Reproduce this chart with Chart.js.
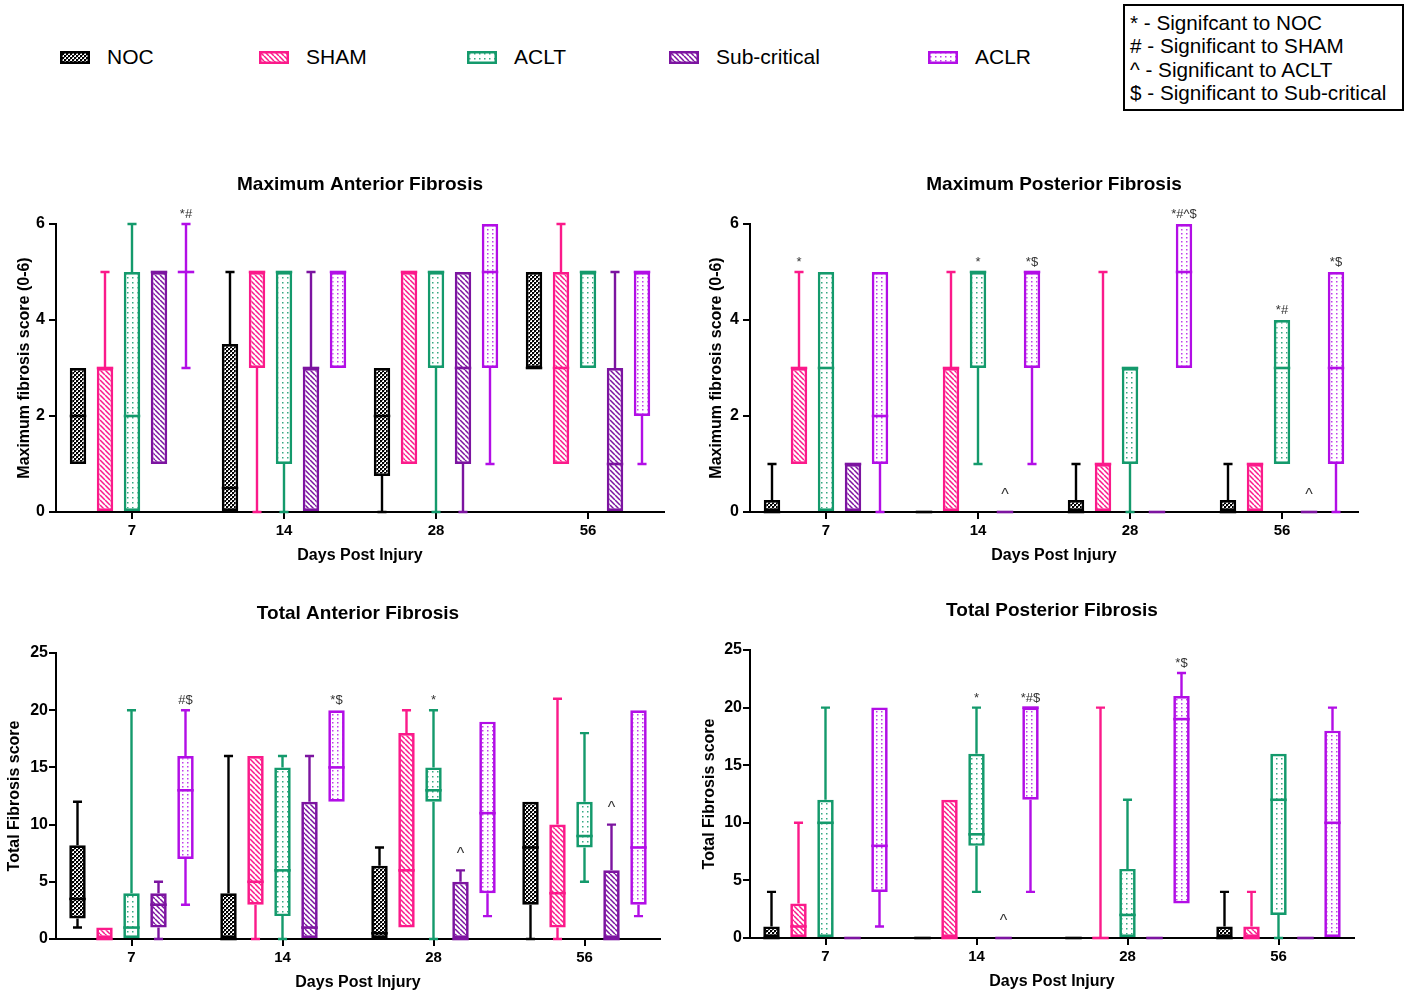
<!DOCTYPE html>
<html><head><meta charset="utf-8">
<script src="https://cdn.jsdelivr.net/npm/chart.js@4.4.0/dist/chart.umd.min.js"></script>
<style>
body{margin:0;background:#fff;width:1405px;height:996px;position:relative;overflow:hidden;font-family:'Liberation Sans',Arial,sans-serif;}
canvas{position:absolute;}
.leg{position:absolute;font-size:21px;line-height:24px;color:#000;white-space:nowrap;}
#sig{position:absolute;left:1123px;top:4px;width:281px;height:107px;border:2.5px solid #000;box-sizing:border-box;font-size:20.7px;line-height:23.3px;padding:5px 0 0 5px;color:#000;white-space:nowrap;}
</style></head><body>
<div id="sig">* - Signifcant to NOC<br># - Significant to SHAM<br>^ - Significant to ACLT<br>$ - Significant to Sub-critical</div>
<script>
const FONT = "'Liberation Sans', Arial, sans-serif";
const days = ['7', '14', '28', '56'];
const groups = ['NOC', 'SHAM', 'ACLT', 'Sub-critical', 'ACLR'];

// Each entry: [min, q1, median, q3, max] for days 7, 14, 28, 56
// Maximum Anterior Fibrosis
const maxAntNOC  = [[1,1,2,3,3],[0,0,0.5,3.5,5],[0,0.75,2,3,3],[3,3,3,5,5]];
const maxAntSHAM = [[0,0,3,3,5],[0,3,5,5,5],[1,1,5,5,5],[1,1,3,5,6]];
const maxAntACLT = [[0,0,2,5,6],[0,1,5,5,5],[0,3,5,5,5],[3,3,5,5,5]];
const maxAntSUB  = [[1,1,5,5,5],[0,0,3,3,5],[0,1,3,5,5],[0,0,1,3,5]];
const maxAntACLR = [[3,5,5,5,6],[3,3,5,5,5],[1,3,5,6,6],[1,2,5,5,5]];
const maxAntNotes = [['','','',''],['','','',''],['','','',''],['','','',''],['*#','','','']];

// Maximum Posterior Fibrosis
const maxPostNOC  = [[0,0,0,0.25,1],[0,0,0,0,0],[0,0,0,0.25,1],[0,0,0,0.25,1]];
const maxPostSHAM = [[1,1,3,3,5],[0,0,3,3,5],[0,0,1,1,5],[0,0,1,1,1]];
const maxPostACLT = [[0,0,3,5,5],[1,3,5,5,5],[0,1,3,3,3],[1,1,3,4,4]];
const maxPostSUB  = [[0,0,1,1,1],[0,0,0,0,0],[0,0,0,0,0],[0,0,0,0,0]];
const maxPostACLR = [[0,1,2,5,5],[1,3,5,5,5],[3,3,5,6,6],[0,1,3,5,5]];
const maxPostNotes = [['','','',''],['*','','',''],['','*','','*#'],['','^','','^'],['','*$','*#^$','*$']];

// Total Anterior Fibrosis
const totAntNOC  = [[1,1.8,3.5,8.2,12],[0,0,0,4,16],[0,0,0.5,6.4,8],[0,3,8,12,12]];
const totAntSHAM = [[0,0,0,1,1],[0,3,5,16,16],[1,1,6,18,20],[0,1,4,10,21]];
const totAntACLT = [[0,0,1,4,20],[0,2,6,15,16],[0,12,13,15,20],[5,8,9,12,18]];
const totAntSUB  = [[0,1,3,4,5],[0,0,1,12,16],[0,0,0,5,6],[0,0,0,6,10]];
const totAntACLR = [[3,7,13,16,20],[12,12,15,20,20],[2,4,11,19,19],[2,3,8,20,20]];
const totAntNotes = [['','','',''],['','','',''],['','','*',''],['','','^','^'],['#$','*$','','']];

// Total Posterior Fibrosis
const totPostNOC  = [[0,0,0,1,4],[0,0,0,0,0],[0,0,0,0,0],[0,0,0,1,4]];
const totPostSHAM = [[0,0,1,3,10],[0,0,0,12,12],[0,0,0,0,20],[0,0,0,1,4]];
const totPostACLT = [[0,0,10,12,20],[4,8,9,16,20],[0,0,2,6,12],[0,2,12,16,16]];
const totPostSUB  = [[0,0,0,0,0],[0,0,0,0,0],[0,0,0,0,0],[0,0,0,0,0]];
const totPostACLR = [[1,4,8,20,20],[4,12,20,20,20],[3,3,19,21,23],[0,0,10,18,20]];
const totPostNotes = [['','','',''],['','','',''],['','*','',''],['','^','',''],['','*#$','*$','']];

const yTicksMax = [0, 2, 4, 6];
const yTicksTot = [0, 5, 10, 15, 20, 25];

const colors = ['#000000', '#fb1a8a', '#149a6c', '#7c14a0', '#b20ee6'];
const kinds = ['checker', 'stripe', 'dots', 'stripe', 'dots2'];

function makePattern(kind, color) {
  const t = document.createElement('canvas');
  const c = t.getContext('2d');
  if (kind === 'checker') {
    t.width = 4; t.height = 4;
    c.fillStyle = '#fff'; c.fillRect(0,0,4,4);
    c.fillStyle = color; c.fillRect(0,0,2,2); c.fillRect(2,2,2,2);
    c.globalAlpha = 0.5; c.fillRect(2,0,1,1); c.fillRect(0,2,1,1);
  } else if (kind === 'stripe') {
    t.width = 5; t.height = 5;
    c.fillStyle = '#fff'; c.fillRect(0,0,5,5);
    c.strokeStyle = color; c.lineWidth = 1.5;
    c.beginPath();
    for (const k of [-5, 0, 5]) { c.moveTo(k, 0); c.lineTo(k + 5, 5); }
    c.stroke();
  } else if (kind === 'dots') {
    t.width = 5; t.height = 5;
    c.fillStyle = '#fff'; c.fillRect(0,0,5,5);
    c.fillStyle = color; c.globalAlpha = 0.85; c.fillRect(2, 2, 1.5, 1.5);
  } else {
    t.width = 5; t.height = 4;
    c.fillStyle = '#fff'; c.fillRect(0,0,5,4);
    c.fillStyle = color; c.globalAlpha = 0.8; c.fillRect(2, 1, 1.5, 1.5);
  }
  return c.createPattern(t, 'repeat');
}
const patterns = colors.map((col, i) => makePattern(kinds[i], col));

// legend
const legendX = [60, 259, 467, 669, 928];
groups.forEach((g, i) => {
  const sw = document.createElement('canvas');
  sw.width = 30; sw.height = 13;
  sw.style.left = legendX[i] + 'px'; sw.style.top = '51px';
  document.body.appendChild(sw);
  const c = sw.getContext('2d');
  c.fillStyle = patterns[i]; c.fillRect(0,0,30,13);
  c.strokeStyle = colors[i]; c.lineWidth = 2.5; c.strokeRect(1.25,1.25,27.5,10.5);
  const sp = document.createElement('div');
  sp.className = 'leg'; sp.textContent = g;
  sp.style.left = (legendX[i] + 47) + 'px'; sp.style.top = '45px';
  document.body.appendChild(sp);
});

const boxPlugin = {
  id: 'boxwhisk',
  afterDatasetsDraw(chart) {
    const ctx = chart.ctx, ys = chart.scales.y;
    const py = v => ys.getPixelForValue(v);
    chart.data.datasets.forEach((ds, di) => {
      const meta = chart.getDatasetMeta(di);
      meta.data.forEach((bar, i) => {
        const s = ds.stats[i];
        const x = bar.x, w = bar.width, cw = w * 0.55;
        ctx.save();
        ctx.strokeStyle = ds.borderColor; ctx.lineWidth = 2.4;
        ctx.beginPath();
        if (s[4] > s[3]) {
          ctx.moveTo(x, py(s[3])); ctx.lineTo(x, py(s[4]));
          ctx.moveTo(x - cw / 2, py(s[4])); ctx.lineTo(x + cw / 2, py(s[4]));
        }
        if (s[0] < s[1]) {
          ctx.moveTo(x, py(s[1])); ctx.lineTo(x, py(s[0]));
          ctx.moveTo(x - cw / 2, py(s[0])); ctx.lineTo(x + cw / 2, py(s[0]));
        }
        ctx.stroke();
        ctx.lineWidth = 2.6;
        ctx.beginPath();
        ctx.moveTo(x - w / 2, py(s[2])); ctx.lineTo(x + w / 2, py(s[2]));
        ctx.stroke();
        const note = ds.notes[i];
        if (note) {
          ctx.fillStyle = '#333';
          ctx.font = (note === '^' ? '16px ' : '13px ') + FONT;
          ctx.textAlign = 'center'; ctx.textBaseline = 'bottom';
          ctx.fillText(note, x, py(s[4]) - (note === '^' ? 8 : 3));
        }
        ctx.restore();
      });
    });
  }
};

const panels = [
  { title: 'Maximum Anterior Fibrosis', ytitle: 'Maximum fibrosis score (0-6)', left: 0, top: 160, padR: 36, plotW: 608, plotH: 288,
    yTicks: yTicksMax, ytPad: 15, tickPad: 4,
    stats: [maxAntNOC, maxAntSHAM, maxAntACLT, maxAntSUB, maxAntACLR], notes: maxAntNotes },
  { title: 'Maximum Posterior Fibrosis', ytitle: 'Maximum fibrosis score (0-6)', left: 694, top: 160, padR: 36, plotW: 608, plotH: 288,
    yTicks: yTicksMax, ytPad: 13, tickPad: 4,
    stats: [maxPostNOC, maxPostSHAM, maxPostACLT, maxPostSUB, maxPostACLR], notes: maxPostNotes },
  { title: 'Total Anterior Fibrosis', ytitle: 'Total Fibrosis score', left: 0, top: 589, padR: 40, plotW: 604, plotH: 286,
    yTicks: yTicksTot, ytPad: 5, tickPad: 1,
    stats: [totAntNOC, totAntSHAM, totAntACLT, totAntSUB, totAntACLR], notes: totAntNotes },
  { title: 'Total Posterior Fibrosis', ytitle: 'Total Fibrosis score', left: 694, top: 586, padR: 40, plotW: 604, plotH: 288,
    yTicks: yTicksTot, ytPad: 6, tickPad: 1,
    stats: [totPostNOC, totPostSHAM, totPostACLT, totPostSUB, totPostACLR], notes: totPostNotes }
];

panels.forEach(p => {
  const cv = document.createElement('canvas');
  const W = 56 + p.plotW + p.padR, H = 64 + p.plotH + 54;
  cv.width = W; cv.height = H;
  cv.style.left = p.left + 'px'; cv.style.top = p.top + 'px';
  document.body.appendChild(cv);
  const catW = p.plotW / days.length;
  const yMax = p.yTicks[p.yTicks.length - 1];
  const yStep = p.yTicks[1] - p.yTicks[0];
  new Chart(cv, {
    type: 'bar',
    data: {
      labels: days,
      datasets: groups.map((g, gi) => ({
        label: g,
        data: p.stats[gi].map(s => [s[1], s[3]]),
        stats: p.stats[gi],
        notes: p.notes[gi],
        backgroundColor: patterns[gi],
        borderColor: colors[gi],
        borderWidth: 2.7,
        borderSkipped: false,
        categoryPercentage: 135 / catW,
        barPercentage: 0.61
      }))
    },
    options: {
      responsive: false, animation: false, devicePixelRatio: 1,
      layout: { padding: { left: 0, right: p.padR, top: 0, bottom: 0 } },
      plugins: {
        legend: { display: false }, tooltip: { enabled: false },
        title: { display: true, text: p.title, fullSize: false, color: '#000',
          font: { size: 19, weight: 'bold', family: FONT, lineHeight: 1.2 }, padding: { top: 13, bottom: 28.2 } }
      },
      scales: {
        x: {
          grid: { display: true, offset: false, drawOnChartArea: false, drawTicks: true, tickLength: 7, color: '#000', lineWidth: 2 },
          border: { display: true, color: '#000', width: 2 },
          ticks: { font: { size: 15, weight: 'bold', family: FONT }, color: '#000', padding: 3 },
          title: { display: true, text: 'Days Post Injury', color: '#000', font: { size: 16, weight: 'bold', family: FONT, lineHeight: 1.2 }, padding: { top: 0, bottom: 1 } },
          afterFit: s => { s.height = 54; }
        },
        y: {
          min: 0, max: yMax,
          grid: { display: true, drawOnChartArea: false, drawTicks: true, tickLength: 7, color: '#000', lineWidth: 2 },
          border: { display: true, color: '#000', width: 2 },
          ticks: { stepSize: yStep, font: { size: 16, weight: 'bold', family: FONT }, color: '#000', padding: p.tickPad },
          title: { display: true, text: p.ytitle, color: '#000', font: { size: 16, weight: 'bold', family: FONT, lineHeight: 1.2 }, padding: { top: p.ytPad, bottom: 0 } },
          afterFit: s => { s.width = 56; }
        }
      }
    },
    plugins: [boxPlugin]
  });
});
</script>
</body></html>
